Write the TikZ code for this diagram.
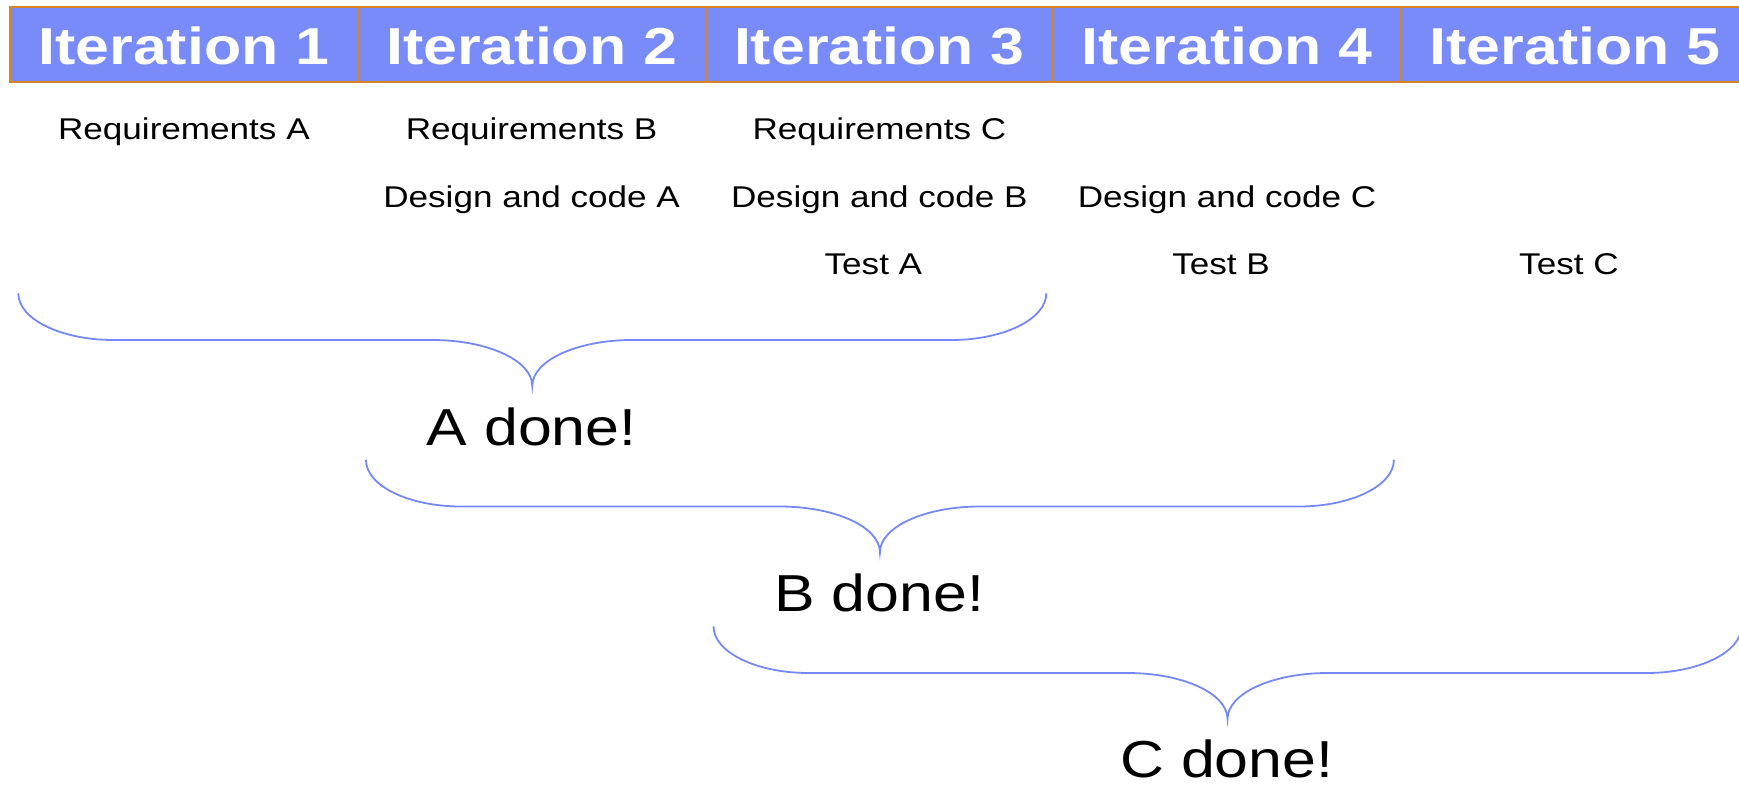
\documentclass[tikz,border=0pt]{standalone}
\usepackage{fontspec}
\setmainfont[FakeStretch=1.17]{Liberation Sans}
\definecolor{iterfill}{RGB}{121,138,249}
\definecolor{iterline}{RGB}{214,132,36}
\definecolor{bracecol}{RGB}{118,136,249}

\tikzset{
  itercell/.style={draw=iterline, line width=2pt, fill=iterfill, rectangle,
    minimum width=347.75pt, minimum height=75pt, inner sep=0pt,
    text=white, font=\bfseries\fontsize{52}{60}\selectfont,
    text height=41.6pt, text depth=0pt},
  task/.style={anchor=base, inner sep=0pt, font=\fontsize{30}{36}\selectfont},
  donelabel/.style={anchor=base, inner sep=0pt, text depth=0pt,
    font=\fontsize{52}{62}\selectfont},
  donebrace/.pic={
    \draw[bracecol, line width=1.8pt]
      (0,0) .. controls (0,26) and (43,46.7) .. (95,46.7)
      -- (414,46.7) .. controls (469,46.7) and (514,67) .. (514,92.7)
      .. controls (514,67) and (559,46.7) .. (614,46.7)
      -- (933,46.7) .. controls (985,46.7) and (1028,26) .. (1028,0);
    \coordinate (-tip) at (514,92.7);
  }
}

\begin{document}
\begin{tikzpicture}[x=1pt,y=-1pt]
  \useasboundingbox (0,0) rectangle (1739,784);
  \clip (0,0) rectangle (1739,784);

  % iteration header
  \foreach \i in {1,...,5} {
    \node[itercell] (it\i) at ({10+347.75*(\i-0.5)},44.2) {Iteration \i};
  }

  % work items per iteration
  \node[task] (reqA) at (183.9,139) {Requirements A};
  \node[task] (reqB) at (531.6,139) {Requirements B};
  \node[task] (reqC) at (879.4,139) {Requirements C};
  \node[task] (dcA) at (531.6,207) {Design and code A};
  \node[task] (dcB) at (879.4,207) {Design and code B};
  \node[task] (dcC) at (1227.1,207) {Design and code C};
  \node[task] (testA) at (873.4,274.5) {Test A};
  \node[task] (testB) at (1221.1,274.5) {Test B};
  \node[task] (testC) at (1568.9,274.5) {Test C};

  % braces spanning three iterations each
  \pic (bA) at (18.3,293.3) {donebrace};
  \pic (bB) at (365.9,459.8) {donebrace};
  \pic (bC) at (713.5,626.3) {donebrace};

  \node[donelabel] (doneA) at (531.7,445) {A done!};
  \node[donelabel] (doneB) at (879.3,611.5) {B done!};
  \node[donelabel] (doneC) at (1226.9,777) {C done!};
\end{tikzpicture}
\end{document}
